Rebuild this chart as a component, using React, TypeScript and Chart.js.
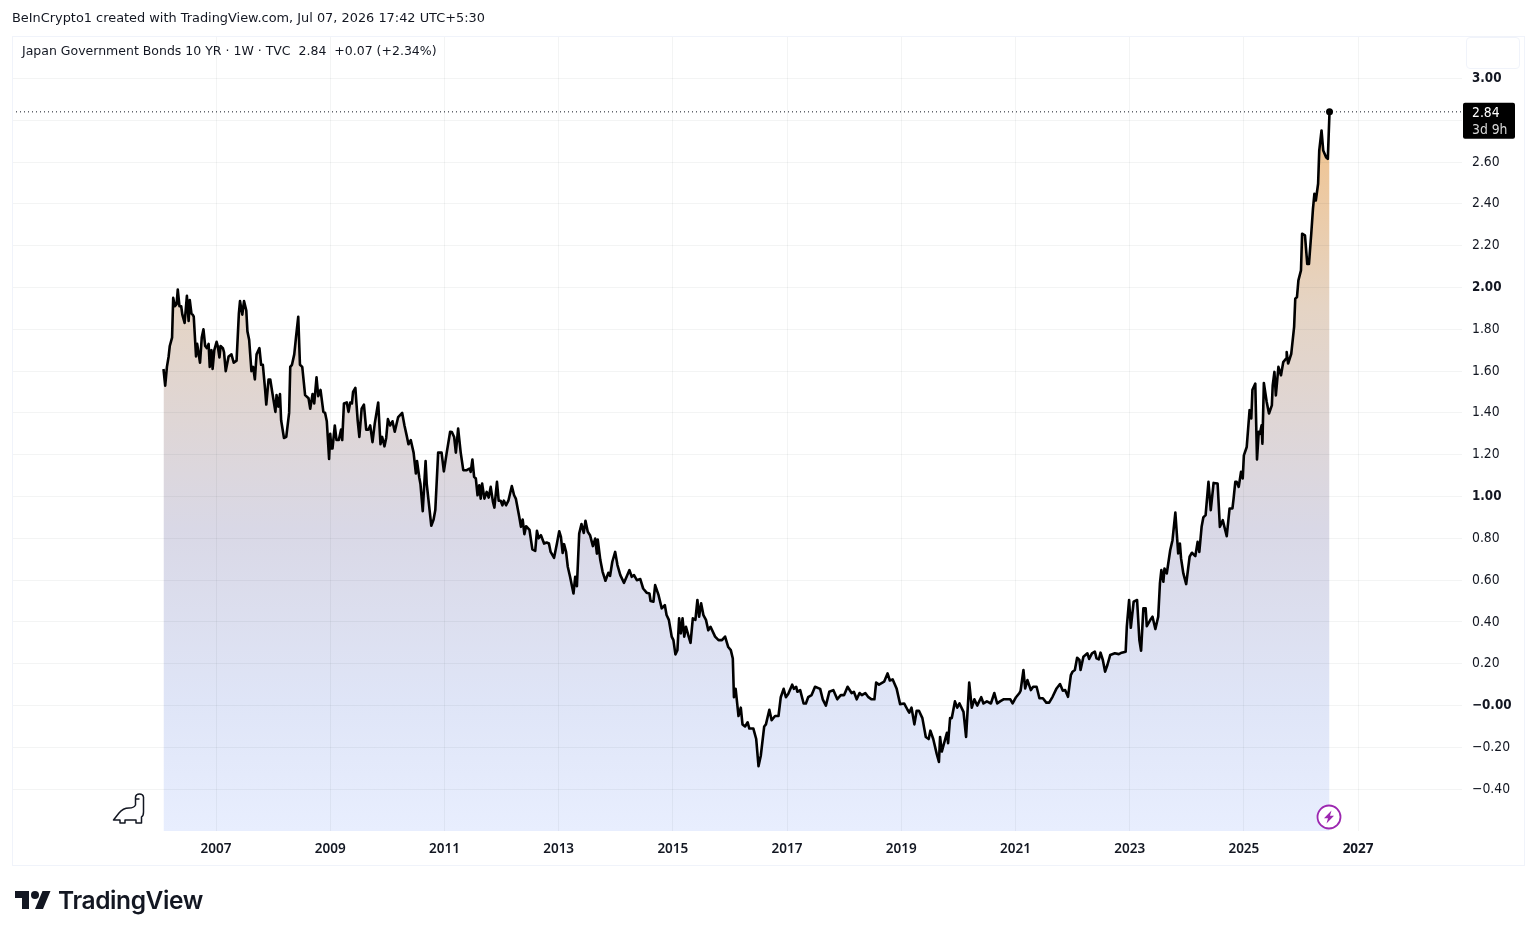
import React, { useEffect, useRef } from "react";
import { Chart, registerables } from "chart.js";

Chart.register(...registerables);

// [decimal year, yield %]
const yields2006to2011: [number, number][] = [
  [2006.08,1.61],[2006.11,1.53],[2006.14,1.62],[2006.17,1.67],[2006.19,1.72],[2006.23,1.76],[2006.25,1.95],[2006.28,1.91],[2006.31,1.92],[2006.33,1.99],[2006.36,1.91],[2006.39,1.91],[2006.41,1.87],[2006.45,1.83],[2006.49,1.96],[2006.52,1.84],[2006.54,1.94],[2006.57,1.875],[2006.59,1.87],[2006.61,1.86],[2006.65,1.67],[2006.67,1.73],[2006.72,1.64],[2006.75,1.76],[2006.78,1.80],[2006.81,1.72],[2006.84,1.71],[2006.87,1.73],[2006.89,1.62],[2006.92,1.70],[2006.94,1.61],[2006.97,1.70],
  [2007.01,1.74],[2007.03,1.72],[2007.06,1.665],[2007.08,1.72],[2007.12,1.71],[2007.14,1.69],[2007.17,1.60],[2007.22,1.67],[2007.27,1.68],[2007.31,1.64],[2007.36,1.65],[2007.40,1.875],[2007.42,1.935],[2007.46,1.87],[2007.49,1.935],[2007.53,1.89],[2007.55,1.79],[2007.58,1.75],[2007.62,1.60],[2007.65,1.62],[2007.68,1.56],[2007.71,1.68],[2007.76,1.71],[2007.79,1.63],[2007.82,1.63],[2007.86,1.51],[2007.88,1.44],[2007.92,1.56],[2007.95,1.56],[2007.99,1.49],
  [2008.04,1.405],[2008.06,1.485],[2008.09,1.43],[2008.12,1.49],[2008.14,1.365],[2008.19,1.28],[2008.23,1.285],[2008.28,1.40],[2008.30,1.62],[2008.33,1.63],[2008.37,1.68],[2008.40,1.76],[2008.44,1.86],[2008.47,1.63],[2008.51,1.62],[2008.56,1.485],[2008.62,1.47],[2008.65,1.42],[2008.69,1.49],[2008.72,1.445],[2008.76,1.57],[2008.79,1.48],[2008.83,1.51],[2008.88,1.405],[2008.91,1.40],[2008.94,1.36],[2008.98,1.18],
  [2009.00,1.30],[2009.02,1.23],[2009.04,1.23],[2009.08,1.34],[2009.11,1.27],[2009.15,1.27],[2009.19,1.32],[2009.21,1.27],[2009.24,1.445],[2009.29,1.45],[2009.32,1.405],[2009.35,1.45],[2009.38,1.445],[2009.40,1.50],[2009.44,1.52],[2009.48,1.365],[2009.51,1.285],[2009.55,1.42],[2009.59,1.44],[2009.63,1.32],[2009.67,1.32],[2009.70,1.34],[2009.74,1.26],[2009.78,1.35],[2009.84,1.45],[2009.88,1.25],[2009.91,1.285],[2009.95,1.24],[2009.98,1.28],
  [2010.01,1.37],[2010.05,1.34],[2010.09,1.36],[2010.13,1.31],[2010.19,1.38],[2010.26,1.40],[2010.30,1.34],[2010.34,1.29],[2010.37,1.25],[2010.41,1.27],[2010.46,1.21],[2010.50,1.11],[2010.52,1.17],[2010.56,1.09],[2010.58,1.06],[2010.62,0.93],[2010.67,1.17],[2010.69,1.06],[2010.77,0.86],[2010.81,0.89],[2010.84,0.935],[2010.89,1.21],[2010.95,1.21],[2010.99,1.12],[2011.04,1.21],[2011.10,1.31],
];

const yields2011to2016: [number, number][] = [
  [2011.13,1.309],[2011.17,1.285],[2011.20,1.21],[2011.24,1.325],[2011.285,1.21],[2011.33,1.126],[2011.39,1.126],[2011.44,1.134],[2011.46,1.118],[2011.49,1.177],[2011.52,1.094],[2011.55,1.086],[2011.58,1.006],[2011.61,1.054],[2011.635,0.99],[2011.66,1.062],[2011.70,0.99],[2011.74,1.022],[2011.775,0.995],[2011.81,1.046],[2011.85,0.974],[2011.875,0.947],[2011.92,1.07],[2011.95,0.98],[2011.985,0.98],
  [2012.015,0.958],[2012.04,0.98],[2012.08,0.958],[2012.12,0.98],[2012.18,1.05],[2012.22,1.006],[2012.25,0.99],[2012.31,0.903],[2012.34,0.855],[2012.37,0.89],[2012.40,0.82],[2012.43,0.858],[2012.49,0.84],[2012.54,0.747],[2012.59,0.74],[2012.62,0.836],[2012.65,0.80],[2012.69,0.815],[2012.745,0.775],[2012.79,0.78],[2012.83,0.775],[2012.86,0.735],[2012.92,0.707],[2012.97,0.775],
  [2013.01,0.834],[2013.04,0.807],[2013.07,0.73],[2013.095,0.772],[2013.13,0.735],[2013.16,0.664],[2013.20,0.616],[2013.26,0.536],[2013.29,0.616],[2013.32,0.571],[2013.36,0.823],[2013.40,0.868],[2013.44,0.826],[2013.47,0.884],[2013.51,0.831],[2013.55,0.815],[2013.60,0.763],[2013.64,0.799],[2013.67,0.727],[2013.685,0.794],[2013.73,0.696],[2013.77,0.64],[2013.82,0.597],[2013.87,0.635],[2013.90,0.62],[2013.94,0.688],[2013.99,0.735],
  [2014.03,0.672],[2014.08,0.624],[2014.145,0.587],[2014.19,0.616],[2014.24,0.648],[2014.28,0.616],[2014.32,0.624],[2014.37,0.60],[2014.43,0.605],[2014.48,0.56],[2014.54,0.54],[2014.59,0.536],[2014.61,0.50],[2014.66,0.497],[2014.69,0.576],[2014.75,0.528],[2014.805,0.465],[2014.86,0.48],[2014.89,0.433],[2014.93,0.41],[2014.98,0.33],
  [2015.01,0.313],[2015.045,0.245],[2015.08,0.265],[2015.11,0.417],[2015.14,0.345],[2015.17,0.417],[2015.20,0.33],[2015.23,0.377],[2015.27,0.337],[2015.31,0.30],[2015.35,0.417],[2015.395,0.41],[2015.43,0.505],[2015.46,0.425],[2015.495,0.489],[2015.535,0.433],[2015.58,0.41],[2015.62,0.36],[2015.66,0.377],[2015.74,0.33],[2015.80,0.313],[2015.86,0.313],[2015.915,0.33],[2015.97,0.28],
  [2016.015,0.265],[2016.05,0.225],
];

const yields2016to2021: [number, number][] = [
  [2016.07,0.04],[2016.10,0.08],[2016.15,-0.05],[2016.19,-0.01],[2016.22,-0.09],[2016.265,-0.10],[2016.31,-0.08],[2016.34,-0.11],[2016.41,-0.11],[2016.46,-0.16],[2016.50,-0.29],[2016.54,-0.24],[2016.60,-0.10],[2016.63,-0.09],[2016.69,-0.02],[2016.73,-0.07],[2016.79,-0.05],[2016.85,-0.05],[2016.89,0.04],[2016.94,0.08],[2016.98,0.04],
  [2017.02,0.055],[2017.09,0.10],[2017.12,0.08],[2017.16,0.09],[2017.18,0.066],[2017.23,0.074],[2017.29,0.01],[2017.33,0.01],[2017.37,0.04],[2017.43,0.05],[2017.49,0.09],[2017.58,0.08],[2017.625,0.03],[2017.68,0.00],[2017.74,0.066],[2017.81,0.074],[2017.88,0.03],[2017.94,0.05],
  [2018.00,0.05],[2018.06,0.09],[2018.13,0.06],[2018.17,0.066],[2018.22,0.03],[2018.27,0.06],[2018.31,0.05],[2018.37,0.06],[2018.425,0.04],[2018.48,0.03],[2018.53,0.03],[2018.56,0.11],[2018.61,0.10],[2018.70,0.114],[2018.76,0.154],[2018.80,0.12],[2018.85,0.125],[2018.92,0.08],[2018.98,0.007],
  [2019.05,0.01],[2019.11,-0.02],[2019.14,-0.034],[2019.18,-0.01],[2019.23,-0.09],[2019.27,-0.025],[2019.31,-0.025],[2019.37,-0.06],[2019.43,-0.15],[2019.48,-0.16],[2019.51,-0.12],[2019.56,-0.16],[2019.62,-0.23],[2019.66,-0.27],[2019.68,-0.15],[2019.71,-0.22],[2019.80,-0.13],[2019.82,-0.18],[2019.855,-0.06],[2019.885,-0.06],[2019.94,0.02],[2019.98,-0.01],
  [2020.02,0.01],[2020.09,-0.03],[2020.135,-0.15],[2020.19,0.11],[2020.235,-0.01],[2020.28,0.03],[2020.33,0.00],[2020.40,0.04],[2020.44,0.01],[2020.50,0.02],[2020.57,0.01],[2020.63,0.06],[2020.68,0.01],[2020.73,0.02],[2020.79,0.03],[2020.85,0.03],[2020.91,0.03],[2020.95,0.01],[2021.01,0.04],[2021.07,0.06],
];

const yields2021to2025: [number, number][] = [
  [2021.09,0.071],[2021.14,0.17],[2021.17,0.082],[2021.21,0.122],[2021.27,0.074],[2021.31,0.09],[2021.37,0.09],[2021.42,0.035],[2021.48,0.035],[2021.54,0.014],[2021.59,0.014],[2021.65,0.042],[2021.72,0.082],[2021.78,0.103],[2021.83,0.071],[2021.87,0.074],[2021.92,0.042],[2021.97,0.146],
  [2022.00,0.162],[2022.04,0.17],[2022.08,0.229],[2022.12,0.218],[2022.14,0.17],[2022.19,0.234],[2022.26,0.25],[2022.29,0.223],[2022.34,0.25],[2022.39,0.258],[2022.42,0.226],[2022.46,0.221],[2022.49,0.253],[2022.53,0.218],[2022.57,0.162],[2022.61,0.194],[2022.66,0.242],[2022.74,0.25],[2022.81,0.246],[2022.86,0.253],[2022.93,0.258],[2022.95,0.377],[2022.99,0.505],
  [2023.02,0.372],[2023.07,0.497],[2023.13,0.505],[2023.17,0.313],[2023.20,0.262],[2023.24,0.465],[2023.28,0.465],[2023.30,0.38],[2023.36,0.409],[2023.40,0.425],[2023.45,0.366],[2023.50,0.425],[2023.53,0.584],[2023.555,0.648],[2023.59,0.592],[2023.61,0.656],[2023.65,0.632],[2023.71,0.743],[2023.75,0.791],[2023.80,0.923],[2023.85,0.728],[2023.88,0.775],[2023.90,0.704],[2023.94,0.632],[2023.99,0.581],
  [2024.05,0.712],[2024.09,0.731],[2024.15,0.715],[2024.19,0.783],[2024.22,0.735],[2024.26,0.855],[2024.29,0.90],[2024.33,0.911],[2024.38,1.07],[2024.42,0.935],[2024.47,1.065],[2024.54,1.062],[2024.58,0.855],[2024.63,0.887],[2024.70,0.81],[2024.75,0.943],[2024.80,0.943],
];

const yields2025to2026: [number, number][] = [
  [2024.82,0.99],[2024.85,1.07],[2024.875,1.07],[2024.91,1.046],[2024.95,1.118],[2024.98,1.086],
  [2025.00,1.197],[2025.05,1.237],[2025.10,1.413],[2025.13,1.373],[2025.15,1.511],[2025.20,1.54],[2025.23,1.177],[2025.26,1.309],[2025.28,1.30],[2025.31,1.34],[2025.325,1.253],[2025.35,1.543],[2025.40,1.452],[2025.44,1.397],[2025.49,1.436],[2025.505,1.532],[2025.535,1.596],[2025.56,1.484],[2025.605,1.62],[2025.65,1.58],[2025.69,1.643],[2025.74,1.66],[2025.75,1.691],[2025.775,1.636],[2025.83,1.683],[2025.88,1.811],[2025.90,1.946],[2025.93,1.954],[2025.955,2.034],
  [2026.00,2.082],[2026.02,2.257],[2026.07,2.249],[2026.11,2.113],[2026.14,2.113],[2026.18,2.257],[2026.21,2.376],[2026.235,2.448],[2026.26,2.416],[2026.30,2.496],[2026.32,2.655],[2026.36,2.751],[2026.39,2.655],[2026.44,2.623],[2026.47,2.615],[2026.50,2.84],
];

const xTickYears = [2007, 2009, 2011, 2013, 2015, 2017, 2019, 2021, 2023, 2025, 2027];
const boldXTicks = [2027];
const yTickValues = [-0.4, -0.2, 0, 0.2, 0.4, 0.6, 0.8, 1, 1.2, 1.4, 1.6, 1.8, 2, 2.2, 2.4, 2.6, 2.8, 3];
const boldYTicks = [3, 2, 1, 0];
const lastPrice = 2.84;
const priceCountdown = "3d 9h";
const xMin = 2003.427;
const xMax = 2028.82;
const yMin = -0.6;
const yMax = 3.2;

const FONT = '"DejaVu Sans Condensed", "DejaVu Sans", sans-serif';
const HEADER_FONT = '"DejaVu Sans", sans-serif';
const XTICK_FONT = '"Noto Sans", sans-serif';

const allYields = [
  ...yields2006to2011,
  ...yields2011to2016,
  ...yields2016to2021,
  ...yields2021to2025,
  ...yields2025to2026,
].map(([x, y]) => ({ x, y }));

function formatY(v: number) {
  const r = Math.round(v * 100) / 100;
  if (r <= 0) return "\u2212" + Math.abs(r).toFixed(2);
  return r.toFixed(2);
}

const priceLabelPlugin = {
  id: "priceLabel",
  afterDraw(chart: any) {
    const { ctx } = chart;
    const y = chart.scales.y.getPixelForValue(lastPrice);
    ctx.save();
    ctx.fillStyle = "#000000";
    ctx.beginPath();
    ctx.roundRect(1463, y - 9, 52, 36, 2);
    ctx.fill();
    ctx.textBaseline = "middle";
    ctx.textAlign = "left";
    ctx.fillStyle = "#ffffff";
    ctx.font = `400 13.8px ${FONT}`;
    ctx.fillText(lastPrice.toFixed(2), 1472, y + 1.5);
    ctx.fillStyle = "#d8d8d8";
    ctx.fillText(priceCountdown, 1472, y + 18.5);
    ctx.restore();
  },
};

function fillGradient(context: any) {
  const { chart } = context;
  const { ctx, chartArea, scales } = chart;
  if (!chartArea) return "#e8eefd";
  const top = scales.y.getPixelForValue(lastPrice);
  const bottom = chartArea.bottom;
  const g = ctx.createLinearGradient(0, top, 0, bottom);
  g.addColorStop(0, "rgb(243,195,135)");
  g.addColorStop(0.08, "rgb(238,199,155)");
  g.addColorStop(0.27, "rgb(229,212,196)");
  g.addColorStop(0.58, "rgb(217,216,230)");
  g.addColorStop(0.82, "rgb(223,229,247)");
  g.addColorStop(1, "rgb(232,238,254)");
  return g;
}

export default function App() {
  const ref = useRef<HTMLCanvasElement>(null);
  useEffect(() => {
    if (!ref.current) return;
    const chart = new Chart(ref.current, {
      type: "line",
      data: {
        datasets: [
          {
            label: "Price line",
            data: [{ x: xMin, y: lastPrice }, { x: xMax, y: lastPrice }],
            borderColor: "#131722",
            borderWidth: 1,
            borderDash: [1, 3],
            pointRadius: 0,
            fill: false,
            order: 2,
          },
          {
            label: "Japan Government Bonds 10 YR",
            data: allYields,
            borderColor: "#000000",
            borderWidth: 2.6,
            borderJoinStyle: "round",
            backgroundColor: fillGradient,
            fill: "start",
            tension: 0,
            pointRadius: (c: any) => (c.dataIndex === allYields.length - 1 ? 3.5 : 0),
            pointBackgroundColor: "#000000",
            pointBorderWidth: 0,
            order: 1,
          },
        ],
      },
      options: {
        animation: false,
        responsive: false,
        devicePixelRatio: 1,
        parsing: false,
        layout: { padding: { left: 12, top: 36.6, right: 12, bottom: 72 } },
        plugins: { legend: { display: false }, tooltip: { enabled: false }, title: { display: false } },
        scales: {
          x: {
            type: "linear",
            min: xMin,
            max: xMax,
            afterBuildTicks: (s: any) => {
              s.ticks = xTickYears.map((value) => ({ value }));
            },
            afterFit: (s: any) => {
              s.height = 34;
            },
            border: { display: false },
            grid: { color: "rgba(42,46,57,0.055)", drawTicks: false, z: 1 },
            ticks: {
              autoSkip: false,
              maxRotation: 0,
              padding: 10,
              color: "#131722",
              font: (c: any) => ({
                family: XTICK_FONT,
                size: 13.5,
                weight: boldXTicks.includes(c.tick?.value) ? 700 : 600,
              }),
              callback: (v: any) => String(v),
            },
          },
          y: {
            type: "linear",
            position: "right",
            min: yMin,
            max: yMax,
            afterBuildTicks: (s: any) => {
              s.ticks = yTickValues.map((value) => ({ value }));
            },
            afterFit: (s: any) => {
              s.width = 62;
            },
            border: { display: false },
            grid: { color: "rgba(42,46,57,0.055)", drawTicks: false, z: 1 },
            ticks: {
              autoSkip: false,
              padding: 10,
              color: "#131722",
              font: (c: any) => {
                const bold = boldYTicks.some((b) => Math.abs(b - c.tick?.value) < 1e-6);
                return { family: FONT, size: bold ? 13.3 : 13.8, weight: bold ? 700 : 400 };
              },
              callback: (v: any) => formatY(v),
            },
          },
        },
      },
      plugins: [priceLabelPlugin],
    } as any);
    return () => chart.destroy();
  }, []);

  return (
    <div style={{ position: "fixed", left: 0, top: 0, width: 1536, height: 937, background: "#fff", overflow: "hidden" }}>
      <canvas ref={ref} width={1536} height={937} style={{ position: "absolute", left: 0, top: 0, width: 1536, height: 937 }} />
      <div style={{ position: "absolute", left: 12, top: 36, width: 1511, height: 828, border: "1px solid #f0f3fa", pointerEvents: "none" }} />
      <div style={{ position: "absolute", left: 1466, top: 37, width: 52, height: 30, border: "1px solid #f0f3fa", borderRadius: 4, background: "#fff" }} />
      <div style={{ position: "absolute", left: 12, top: 10, font: `400 12.9px ${HEADER_FONT}`, color: "#131722", whiteSpace: "pre" }}>
        BeInCrypto1 created with TradingView.com, Jul 07, 2026 17:42 UTC+5:30
      </div>
      <div style={{ position: "absolute", left: 22, top: 43, font: `400 12.5px ${HEADER_FONT}`, color: "#131722", whiteSpace: "pre" }}>
        Japan Government Bonds 10 YR · 1W · TVC  2.84  +0.07 (+2.34%)
      </div>
      {/* dinosaur watermark */}
      <svg style={{ position: "absolute", left: 112, top: 792 }} width="34" height="34" viewBox="0 0 34 34" fill="none" stroke="#131722" strokeWidth="1.5" strokeLinejoin="round">
        <path d="M1.5 28 L7 21 Q11 16 17 16 Q22 16 23.5 13 L23.5 5 Q24 2 27.5 2 Q31 2 31.5 5 L31.5 20 Q31.5 24 29.5 25 L29.5 31 L24 31 L24 28 L13 28 L13 31 L8 31 L8 28 Z" />
        <path d="M24 7 L27.5 7" />
      </svg>
      {/* bolt badge */}
      <svg style={{ position: "absolute", left: 1316, top: 804 }} width="26" height="26" viewBox="0 0 26 26">
        <circle cx="13" cy="13" r="11.5" fill="#fff" stroke="#9c27b0" strokeWidth="1.8" />
        <path d="M15.5 6.5 L8 14.2 L12 14.2 L10.5 19.5 L18 11.8 L14 11.8 Z" fill="#9c27b0" />
      </svg>
      {/* TradingView logo */}
      <svg style={{ position: "absolute", left: 14, top: 887 }} width="38" height="28" viewBox="0 0 36 28" fill="#131722">
        <path d="M14 22H7V11H0V4h14v18zM28 22h-8l7.5-18h8L28 22z" />
        <circle cx="20" cy="8" r="4" />
      </svg>
      <div style={{ position: "absolute", left: 58, top: 885, font: `600 24.5px Inter, sans-serif`, color: "#131722", letterSpacing: -0.4, whiteSpace: "pre" }}>
        TradingView
      </div>
    </div>
  );
}
